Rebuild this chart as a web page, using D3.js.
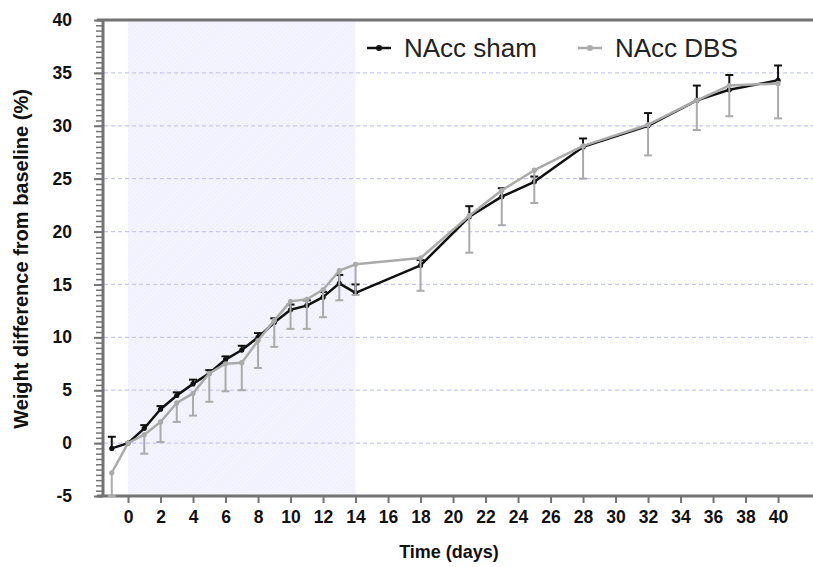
<!DOCTYPE html>
<html>
<head>
  <meta charset="utf-8">
  <script src="https://d3js.org/d3.v7.min.js"></script>
  <style>
    body { margin: 0; background: #fff; }
    text { font-family: "Liberation Sans", Arial, sans-serif; }
    .tick text { font-size: 17.5px; font-weight: bold; fill: #111; }
    .title { font-weight: bold; fill: #111; }
    .legend { font-size: 26px; fill: #222; }
  </style>
</head>
<body>
  <script>
    // days of measurement
    var days = [-1, 0, 1, 2, 3, 4, 5, 6, 7, 8, 9, 10, 11, 12, 13, 14, 18, 21, 23, 25, 28, 32, 35, 37, 40];
    // NAcc sham mean and upper error
    var sham = [-0.5, 0, 1.4, 3.2, 4.5, 5.6, 6.6, 7.9, 8.8, 10.0, 11.4, 12.6, 13.0, 13.8, 15.1, 14.2, 16.8, 21.4, 23.3, 24.7, 28.0, 30.0, 32.4, 33.4, 34.3];
    var shamErr = [1.1, 0, 0.3, 0.3, 0.3, 0.4, 0.3, 0.3, 0.4, 0.4, 0.4, 0.5, 0.5, 0.5, 0.8, 0.8, 0.5, 1.0, 0.8, 0.5, 0.8, 1.2, 1.4, 1.4, 1.4];
    // NAcc DBS mean and lower error
    var dbs = [-2.8, 0, 0.8, 2.0, 3.8, 4.7, 6.6, 7.5, 7.6, 9.7, 11.6, 13.4, 13.6, 14.5, 16.3, 16.9, 17.5, 21.5, 23.9, 25.8, 28.1, 30.1, 32.4, 33.8, 34.0];
    var dbsErr = [2.2, 0, 1.8, 1.9, 1.8, 2.1, 2.7, 2.6, 2.6, 2.6, 2.5, 2.6, 2.8, 2.6, 2.8, 2.9, 3.1, 3.5, 3.3, 3.1, 3.1, 2.9, 2.8, 2.9, 3.3];
    var xTicks = d3.range(0, 41, 2);
    var yTicks = d3.range(-5, 41, 5);
    var gridTicks = d3.range(0, 36, 5);
    var stimPeriod = [0, 14];

    var W = 813, H = 567;
    var svg = d3.select("body").append("svg").attr("width", W).attr("height", H);

    var x = d3.scaleLinear().domain([-1.54, 42.15]).range([103, 813]);
    var y = d3.scaleLinear().domain([-5, 40]).range([496, 20]);

    // stimulation window
    var defs = svg.append("defs");
    var pat = defs.append("pattern").attr("id", "hatch").attr("width", 3).attr("height", 3)
      .attr("patternUnits", "userSpaceOnUse").attr("patternTransform", "rotate(45)");
    pat.append("rect").attr("width", 3).attr("height", 3).attr("fill", "#f4f4fe");
    pat.append("line").attr("x1", 0).attr("y1", 0).attr("x2", 0).attr("y2", 3)
      .attr("stroke", "#eaeafb").attr("stroke-width", 1);
    svg.append("rect")
      .attr("x", x(stimPeriod[0])).attr("y", y(40))
      .attr("width", x(stimPeriod[1]) - x(stimPeriod[0]))
      .attr("height", y(-5) - y(40))
      .attr("fill", "url(#hatch)");

    // grid
    svg.selectAll(".grid").data(gridTicks).enter().append("line")
      .attr("x1", 104).attr("x2", W)
      .attr("y1", function(d) { return y(d); }).attr("y2", function(d) { return y(d); })
      .attr("stroke", "#c6c6f4").attr("stroke-width", 1.3).attr("stroke-dasharray", "4,3");

    // axes
    var yAxisMinor = d3.axisLeft(y).tickValues(d3.range(-5, 40.01, 0.5)).tickSize(7).tickFormat("");
    svg.append("g").attr("transform", "translate(103,0)").call(yAxisMinor)
      .call(function(g) { g.select(".domain").remove(); g.selectAll("line").attr("stroke", "#737373").attr("stroke-width", 1.5); });
    var yAxis = d3.axisLeft(y).tickValues(yTicks).tickSize(9).tickPadding(22)
      .tickFormat(function(d) { return String(d); });
    svg.append("g").attr("transform", "translate(103,0)").call(yAxis)
      .call(function(g) {
        g.select(".domain").remove();
        g.selectAll("line").attr("stroke", "#737373").attr("stroke-width", 2);
      });
    svg.append("line").attr("x1", 103).attr("x2", 103).attr("y1", 19).attr("y2", 497)
      .attr("stroke", "#737373").attr("stroke-width", 3);

    var xAxis = d3.axisBottom(x).tickValues(xTicks).tickSize(7).tickPadding(8);
    svg.append("g").attr("transform", "translate(0,496)").call(xAxis)
      .call(function(g) {
        g.select(".domain").remove();
        g.selectAll("line").attr("stroke", "#737373").attr("stroke-width", 2);
      });
    svg.append("line").attr("x1", 97).attr("x2", W).attr("y1", 496).attr("y2", 496)
      .attr("stroke", "#737373").attr("stroke-width", 3);
    svg.append("line").attr("x1", 97).attr("x2", W).attr("y1", 20).attr("y2", 20)
      .attr("stroke", "#737373").attr("stroke-width", 3);

    // titles
    svg.append("text").attr("class", "title").attr("text-anchor", "middle").style("font-size", "20px")
      .attr("transform", "translate(28,259) rotate(-90)").text("Weight difference from baseline (%)");
    svg.append("text").attr("class", "title").attr("text-anchor", "middle").style("font-size", "18px")
      .attr("x", 449).attr("y", 558).text("Time (days)");

    function drawSeries(vals, errs, color, dir) {
      var pts = days.map(function(d, i) { return { d: d, v: vals[i], e: errs[i] }; });
      var bars = svg.append("g");
      pts.forEach(function(p) {
        if (!p.e) return;
        var end = p.v + dir * p.e;
        bars.append("line").attr("x1", x(p.d)).attr("x2", x(p.d)).attr("y1", y(p.v)).attr("y2", y(end))
          .attr("stroke", color).attr("stroke-width", 2);
        bars.append("line").attr("x1", x(p.d) - 4).attr("x2", x(p.d) + 4).attr("y1", y(end)).attr("y2", y(end))
          .attr("stroke", color).attr("stroke-width", 2);
      });
      svg.append("path").datum(pts)
        .attr("fill", "none").attr("stroke", color).attr("stroke-width", 2.5)
        .attr("stroke-linejoin", "round")
        .attr("d", d3.line().x(function(p) { return x(p.d); }).y(function(p) { return y(p.v); }));
      svg.append("g").selectAll("circle").data(pts).enter().append("circle")
        .attr("cx", function(p) { return x(p.d); }).attr("cy", function(p) { return y(p.v); })
        .attr("r", 2.6).attr("fill", color);
    }
    drawSeries(sham, shamErr, "#111", 1);
    drawSeries(dbs, dbsErr, "#aaaaaa", -1);

    // legend
    var legend = [["NAcc sham", "#111", 367], ["NAcc DBS", "#aaaaaa", 578]];
    legend.forEach(function(l) {
      svg.append("line").attr("x1", l[2]).attr("x2", l[2] + 24).attr("y1", 48).attr("y2", 48)
        .attr("stroke", l[1]).attr("stroke-width", 2.5);
      svg.append("circle").attr("cx", l[2] + 12).attr("cy", 48).attr("r", 3).attr("fill", l[1]);
      svg.append("text").attr("class", "legend").attr("x", l[2] + 37).attr("y", 57).text(l[0]);
    });
  </script>
</body>
</html>
